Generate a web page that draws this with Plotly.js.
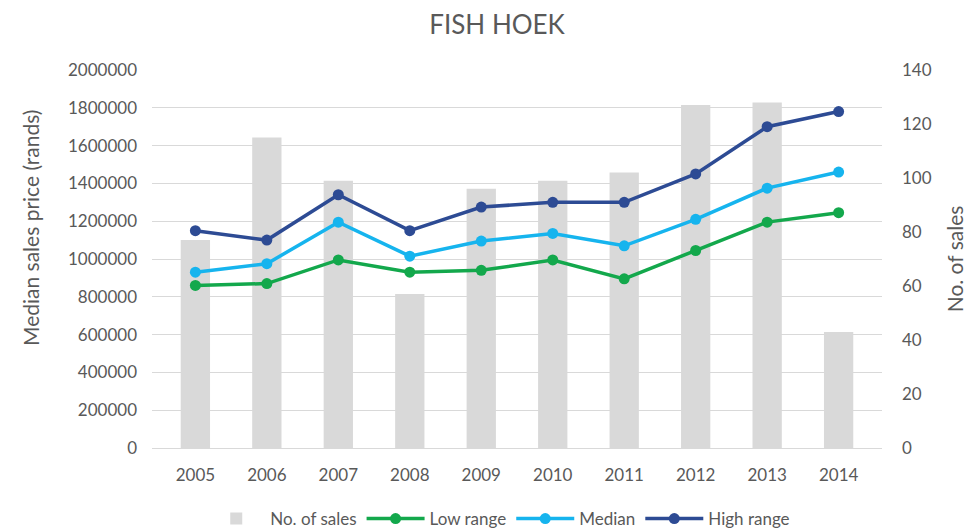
<!DOCTYPE html>
<html>
<head>
<meta charset="utf-8">
<script src="https://cdn.plot.ly/plotly-3.0.1.min.js"></script>
<style>html,body{margin:0;padding:0;background:#fff;}#chart{width:967px;height:529px;}</style>
</head>
<body>
<div id="chart"></div>
<script>
const years = ['2005','2006','2007','2008','2009','2010','2011','2012','2013','2014'];
const noOfSales = [77, 115, 99, 57, 96, 99, 102, 127, 128, 43];
const lowRange = [860000, 870000, 995000, 930000, 940000, 995000, 895000, 1045000, 1195000, 1245000];
const median = [930000, 975000, 1195000, 1015000, 1095000, 1135000, 1070000, 1210000, 1375000, 1460000];
const highRange = [1150000, 1100000, 1340000, 1150000, 1275000, 1300000, 1300000, 1450000, 1700000, 1780000];
const priceTicks = [0,200000,400000,600000,800000,1000000,1200000,1400000,1600000,1800000,2000000];
const salesTicks = [0,20,40,60,80,100,120,140];

const txt = '#595959';
const fontFam = 'Lato, "Open Sans", "DejaVu Sans", sans-serif';

const traces = [
  {type:'bar', name:'No. of sales', x:years, y:noOfSales, yaxis:'y',
   marker:{color:'#d9d9d9'}},
  {type:'scatter', mode:'lines+markers', name:'Low range', x:years, y:lowRange, yaxis:'y2',
   line:{color:'#13a84c', width:3.5}, marker:{color:'#13a84c', size:11}},
  {type:'scatter', mode:'lines+markers', name:'Median', x:years, y:median, yaxis:'y2',
   line:{color:'#16b4ee', width:3.5}, marker:{color:'#16b4ee', size:11}},
  {type:'scatter', mode:'lines+markers', name:'High range', x:years, y:highRange, yaxis:'y2',
   line:{color:'#2d4b94', width:3.5}, marker:{color:'#2d4b94', size:11}}
];

const layout = {
  width:967, height:529,
  margin:{l:152, r:85, t:70, b:81, autoexpand:false},
  paper_bgcolor:'#fff', plot_bgcolor:'#fff',
  font:{family:fontFam, color:txt, size:17},
  title:{text:'FISH HOEK', xref:'container', x:0.514, xanchor:'center', y:0.953, yanchor:'middle',
         font:{size:26, color:txt, family:fontFam}},
  bargap:0.59,
  showlegend:true,
  legend:{orientation:'h', x:0.475, xanchor:'center', y:-0.188, yanchor:'middle',
          font:{size:17, color:txt}, traceorder:'normal', itemwidth:58},
  xaxis:{type:'category', showgrid:false, showline:true, linecolor:'#d9d9d9', linewidth:1,
         ticks:'', tickfont:{size:17, color:txt}, ticklabelstandoff:12, automargin:false},
  yaxis:{side:'right', range:[0,140], tickvals:salesTicks, showgrid:false, zeroline:false,
         showline:false, ticks:'', tickfont:{size:17, color:txt}, ticklabelstandoff:19,
         automargin:false,
         title:{text:'No. of sales', font:{size:21, color:txt}, standoff:18}},
  yaxis2:{side:'left', overlaying:'y', range:[0,2000000], tickvals:priceTicks,
          ticktext:priceTicks.map(String), showgrid:true, gridcolor:'#d9d9d9', gridwidth:1,
          zeroline:false, showline:false, ticks:'', tickfont:{size:17, color:txt}, ticklabelstandoff:14,
          automargin:false},
  annotations:[{text:'Median sales price (rands)', xref:'paper', yref:'paper',
                x:(30-152)/730, y:(448-228)/378, xanchor:'center', yanchor:'middle',
                textangle:-90, showarrow:false, font:{size:21, color:txt}}]
};

Plotly.newPlot('chart', traces, layout, {displayModeBar:false, staticPlot:true});
</script>
</body>
</html>
